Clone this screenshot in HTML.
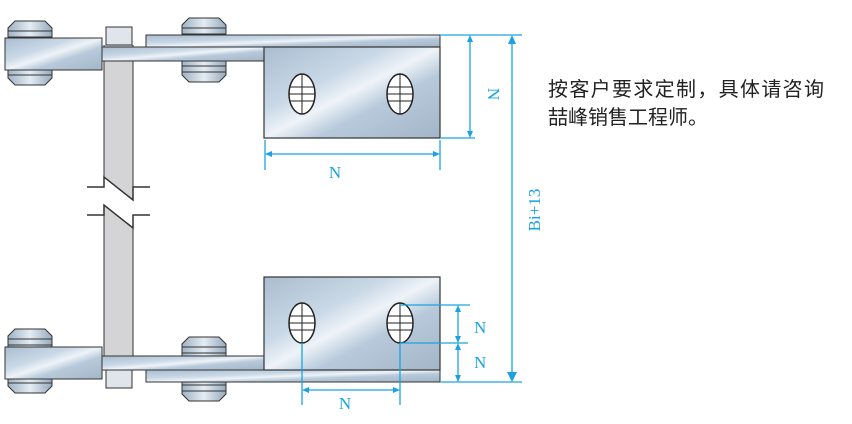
<!DOCTYPE html>
<html><head><meta charset="utf-8"><style>
html,body{margin:0;padding:0;background:#fff;width:852px;height:424px;overflow:hidden}
</style></head><body>
<svg width="852" height="424" viewBox="0 0 852 424" xmlns="http://www.w3.org/2000/svg">
<defs>
<linearGradient id="m" x1="0" y1="0" x2="1" y2="1">
<stop offset="0" stop-color="#a9bdd0"/><stop offset="0.35" stop-color="#c9d8e6"/>
<stop offset="0.5" stop-color="#eef3f8"/><stop offset="0.65" stop-color="#b7c9da"/><stop offset="1" stop-color="#a3b6c8"/>
</linearGradient>
<linearGradient id="r" x1="0" y1="0" x2="1" y2="0">
<stop offset="0" stop-color="#9fb2c4"/><stop offset="0.5" stop-color="#e4ecf3"/><stop offset="1" stop-color="#97aabd"/>
</linearGradient>
<g id="roller">
<path d="M-15,-32 L15,-32 L22,-25 L22,25 L15,32 L-15,32 L-22,25 L-22,-25Z" fill="url(#r)" stroke="#333" stroke-width="1"/>
<line x1="-22" y1="-22" x2="22" y2="-22" stroke="#333"/><line x1="-22" y1="-16" x2="22" y2="-16" stroke="#333"/>
<line x1="-22" y1="16" x2="22" y2="16" stroke="#333"/><line x1="-22" y1="22" x2="22" y2="22" stroke="#333"/>
</g>
<g id="hole">
<ellipse cx="0" cy="0" rx="13" ry="20" fill="#fff" stroke="#222" stroke-width="1.5"/>
<line x1="-12" y1="-7" x2="12" y2="-7" stroke="#222"/><line x1="-13" y1="0" x2="13" y2="0" stroke="#222"/>
<line x1="-12" y1="7" x2="12" y2="7" stroke="#222"/><line x1="0" y1="-20" x2="0" y2="20" stroke="#222"/>
</g>
</defs>
<!-- vertical bar -->
<path d="M104,45 L133,45 L133,200 L104,177Z" fill="#d4d4d6"/>
<path d="M104,205 L133,228 L133,365 L104,365Z" fill="#d4d4d6"/>
<line x1="104" y1="45" x2="104" y2="187" stroke="#333"/><line x1="133" y1="45" x2="133" y2="200" stroke="#333"/>
<line x1="104" y1="205" x2="104" y2="365" stroke="#333"/><line x1="133" y1="215" x2="133" y2="365" stroke="#333"/>
<path d="M87,187 L104,187 L104,177 L133,200 L133,187 L150,187" fill="none" stroke="#333" stroke-width="1.5"/>
<path d="M87,215 L104,215 L104,205 L133,228 L133,215 L150,215" fill="none" stroke="#333" stroke-width="1.5"/>
<!-- TOP -->
<use href="#roller" x="30" y="53"/>
<use href="#roller" x="204" y="50"/>
<rect x="106" y="27" width="26" height="18" fill="#dfe5ea" stroke="#333"/>
<rect x="146" y="35" width="294" height="12" fill="url(#m)" stroke="#333"/>
<rect x="5" y="38" width="97" height="32" fill="url(#m)" stroke="#333"/>
<rect x="102" y="47" width="163" height="14" fill="url(#m)" stroke="#333"/>
<rect x="264" y="47" width="176" height="91" fill="url(#m)" stroke="#333" stroke-width="1.2"/>
<use href="#hole" x="302" y="94"/><use href="#hole" x="400" y="94"/>
<!-- BOTTOM -->
<use href="#roller" x="30" y="361"/>
<use href="#roller" x="204" y="369"/>
<rect x="106" y="370" width="26" height="18" fill="#dfe5ea" stroke="#333"/>
<rect x="146" y="370" width="294" height="12" fill="url(#m)" stroke="#333"/>
<rect x="5" y="347" width="97" height="32" fill="url(#m)" stroke="#333"/>
<rect x="102" y="356" width="163" height="14" fill="url(#m)" stroke="#333"/>
<rect x="264" y="277" width="176" height="93" fill="url(#m)" stroke="#333" stroke-width="1.2"/>
<use href="#hole" x="302" y="323"/><use href="#hole" x="400" y="323"/>
<!-- dimensions -->
<g stroke="#1aa3e0" stroke-width="1.3" fill="none">
<line x1="440" y1="35" x2="522" y2="35"/><line x1="440" y1="138" x2="475" y2="138"/>
<line x1="470" y1="38" x2="470" y2="135"/>
<line x1="512" y1="38" x2="512" y2="378"/>
<line x1="265" y1="140" x2="265" y2="170"/><line x1="440" y1="140" x2="440" y2="170"/>
<line x1="268" y1="154" x2="437" y2="154"/>
<line x1="400" y1="305" x2="470" y2="305"/><line x1="400" y1="343" x2="468" y2="343"/>
<line x1="440" y1="382" x2="522" y2="382"/>
<line x1="458" y1="308" x2="458" y2="340"/><line x1="458" y1="346" x2="458" y2="379"/>
<line x1="302" y1="343" x2="302" y2="405"/><line x1="400" y1="343" x2="400" y2="405"/>
<line x1="305" y1="390" x2="397" y2="390"/>
</g>
<g fill="#1aa3e0">
<path d="M470,35 l-3,7 h6z"/><path d="M470,138 l-3,-7 h6z"/>
<path d="M512,35 l-4,9 h8z"/><path d="M512,382 l-5,-10 h10z"/>
<path d="M265,154 l7,-3 v6z"/><path d="M440,154 l-7,-3 v6z"/>
<path d="M458,305 l-3,7 h6z"/><path d="M458,343 l-3,-7 h6z"/><path d="M458,343 l-3,7 h6z"/><path d="M458,382 l-3,-7 h6z"/>
<path d="M302,390 l7,-3 v6z"/><path d="M400,390 l-7,-3 v6z"/>
</g>
<g fill="#1aa3e0" font-family="Liberation Serif, serif" font-size="17">
<text x="335" y="178" text-anchor="middle">N</text>
<text x="474" y="333">N</text><text x="474" y="368">N</text>
<text x="345" y="409" text-anchor="middle">N</text>
<text transform="translate(488,94) rotate(90)" text-anchor="middle">N</text>
<text transform="translate(540,210) rotate(-90)" text-anchor="middle">Bi+13</text>
</g>
<g font-family="Liberation Sans, Noto Sans CJK SC, sans-serif" font-size="20" fill="#222">
<text x="548" y="96" textLength="276">按客户要求定制，具体请咨询</text>
<text x="548" y="124">喆峰销售工程师。</text>
</g>
</svg>
</body></html>
